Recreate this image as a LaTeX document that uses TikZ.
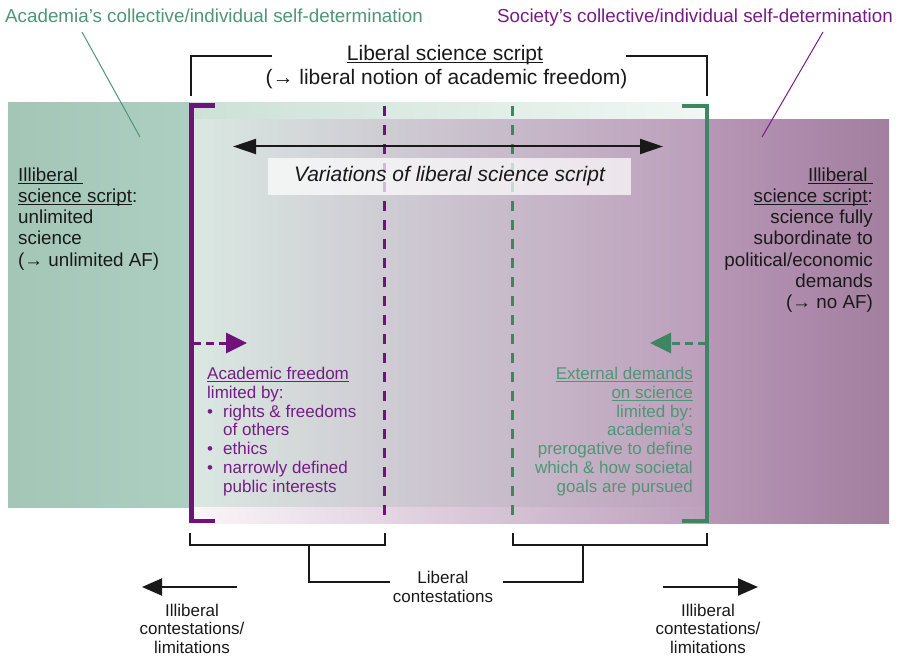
\documentclass[tikz,border=0pt]{standalone}
\usepackage{fontspec}
\setmainfont{Liberation Sans}
\usetikzlibrary{arrows.meta}
\definecolor{grtxt}{RGB}{78,150,117}
\definecolor{grline}{RGB}{62,134,98}
\definecolor{putxt}{RGB}{118,28,134}
\definecolor{puline}{RGB}{112,18,124}
\definecolor{ink}{RGB}{25,25,25}
\newcommand\myul[1]{\setbox0\hbox{#1}\rlap{\rule[-3pt]{\wd0}{1.3pt}}\box0}
\begin{document}
\begin{tikzpicture}[x=1pt,y=-1pt,
  lbl/.style={inner sep=0pt, font=\fontsize{18.8}{21.3}\selectfont},
  big/.style={inner sep=0pt, font=\fontsize{21}{24}\selectfont},
  small/.style={inner sep=0pt, font=\fontsize{17}{18.83}\selectfont},
  bot/.style={inner sep=0pt, font=\fontsize{17}{18.8}\selectfont, align=center, text=ink},
  blackbr/.style={draw=ink, line width=1.6pt},
  thickbr/.style={line width=4.5pt, line join=miter},
  dashv/.style={line width=3pt, dash pattern=on 10pt off 9pt},
  dasharr/.style={line width=3pt, dash pattern=on 8pt off 5pt, -{Triangle[length=21pt,width=20pt]}},
  blkarr/.style={draw=ink, line width=2pt},
  thin/.style={line width=1pt}
]
\useasboundingbox (0,0) rectangle (902,658);
% backgrounds
\shade[left color={rgb,255:red,163;green,198;blue,183}, right color={rgb,255:red,173;green,207;blue,193}] (8,103) rectangle (190.5,507);
\shade[left color={rgb,255:red,204;green,225;blue,215}, right color={rgb,255:red,241;green,247;blue,244}] (190,103) rectangle (708,120.5);
\shade[left color={rgb,255:red,218;green,232;blue,226}, middle color={rgb,255:red,204;green,193;blue,206}, right color={rgb,255:red,188;green,158;blue,187}] (190,120) rectangle (708.5,507.5);
\shade[left color={rgb,255:red,250;green,246;blue,249}, right color={rgb,255:red,190;green,160;blue,189}] (190,507) rectangle (708.5,523);
\shade[left color={rgb,255:red,184;green,150;blue,182}, right color={rgb,255:red,162;green,126;blue,159}] (708,120) rectangle (889,523);

% dashed separators
\coordinate (pdt) at (384,106); \coordinate (pdb) at (384,517);
\coordinate (gdt) at (512,106); \coordinate (gdb) at (512,517);
\draw[dashv, puline] (pdt) -- (pdb);
\draw[dashv, grline] (gdt) -- (gdb);

% variations
\coordinate (dl) at (233,146.5); \coordinate (dr) at (663,146.5);
\draw[blkarr, {Triangle[length=23pt,width=15pt]}-{Triangle[length=23pt,width=15pt]}] (dl) -- (dr);
\node[big, fill=white, fill opacity=0.7, text opacity=1, text=ink, minimum width=363pt, minimum height=37pt, font=\fontsize{21}{24}\selectfont\itshape] (var) at (449.5,176.5) {Variations of liberal science script};

% brackets
\coordinate (p1) at (215,105.5); \coordinate (p2) at (191.3,105.5); \coordinate (p3) at (191.3,521); \coordinate (p4) at (215,521);
\draw[thickbr, puline] (p1) -- (p2) -- (p3) -- (p4);
\coordinate (q1) at (682,106); \coordinate (q2) at (707,106); \coordinate (q3) at (707,521); \coordinate (q4) at (682,521);
\draw[thickbr, grline] (q1) -- (q2) -- (q3) -- (q4);

% top title
\node[big, anchor=base, text=ink] (title) at (445,60.3) {\myul{Liberal science script}};
\node[big, anchor=base, text=ink] (title2) at (446.5,84.6) {(→ liberal notion of academic freedom)};
\coordinate (t1) at (191,96); \coordinate (t2) at (191,56); \coordinate (t3) at (272,56);
\coordinate (t4) at (626,56); \coordinate (t5) at (707,56); \coordinate (t6) at (707,96);
\draw[blackbr] (t1) -- (t2) -- (t3);
\draw[blackbr] (t4) -- (t5) -- (t6);

% corner labels
\node[lbl, anchor=base west, text=grtxt] (acad) at (5,22.8) {Academia’s collective/individual self-determination};
\node[lbl, anchor=base east, text=putxt] (soc) at (893,22.8) {Society’s collective/individual self-determination};
\coordinate (g1) at (82,32); \coordinate (g2) at (140,137);
\draw[thin, grtxt] (g1) -- (g2);
\coordinate (s1) at (823,32); \coordinate (s2) at (762,137);
\draw[thin, putxt] (s1) -- (s2);

% side texts
\node[lbl, anchor=north west, align=left, text=ink] (lefttxt) at (18,167.2)
  {\myul{Illiberal\ }\\\myul{science script}:\\unlimited\\science\\(→ unlimited AF)};
\node[lbl, anchor=north east, align=right, text=ink] (righttxt) at (873,167.2)
  {\myul{Illiberal\ }\\\myul{science script}:\\science fully\\subordinate to\\political/economic\\demands\\(→ no AF)};

% dashed arrows
\coordinate (pa1) at (193,343); \coordinate (pa2) at (247,343);
\draw[dasharr, puline] (pa1) -- (pa2);
\coordinate (ga1) at (706,343); \coordinate (ga2) at (650,343);
\draw[dasharr, grline] (ga1) -- (ga2);

% inner blocks
\node[small, anchor=north west, align=left, text=putxt] (afree) at (207,366.9)
  {\myul{Academic freedom}\\limited by:\\\makebox[16pt][l]{•}rights \& freedoms\\\hspace*{16pt}of others\\\makebox[16pt][l]{•}ethics\\\makebox[16pt][l]{•}narrowly defined\\\hspace*{16pt}public interests};
\node[small, anchor=north east, align=right, text=grtxt] (extd) at (693,366.9)
  {\myul{External demands}\\\myul{on science}\\limited by:\\academia’s\\prerogative to define\\which \& how societal\\goals are pursued};

% bottom brackets
\coordinate (b1) at (190,533); \coordinate (b2) at (190,545); \coordinate (b3) at (385,545); \coordinate (b4) at (385,533);
\coordinate (b5) at (309,545); \coordinate (b6) at (309,582); \coordinate (b7) at (390,582);
\draw[blackbr] (b1) -- (b2) -- (b3) -- (b4);
\draw[blackbr] (b5) -- (b6) -- (b7);
\coordinate (c1) at (513,533); \coordinate (c2) at (513,545); \coordinate (c3) at (707,545); \coordinate (c4) at (707,533);
\coordinate (c5) at (583,545); \coordinate (c6) at (583,582); \coordinate (c7) at (503,582);
\draw[blackbr] (c1) -- (c2) -- (c3) -- (c4);
\draw[blackbr] (c5) -- (c6) -- (c7);
\node[bot, anchor=north] (libc) at (443,570.9) {Liberal\\contestations};

% bottom arrows
\coordinate (la1) at (237,587); \coordinate (la2) at (142,587);
\draw[blkarr, -{Triangle[length=20pt,width=17pt]}] (la1) -- (la2);
\coordinate (ra1) at (663,587); \coordinate (ra2) at (758,587);
\draw[blkarr, -{Triangle[length=20pt,width=17pt]}] (ra1) -- (ra2);
\node[bot, anchor=north, font=\fontsize{17}{18.4}\selectfont] (illl) at (192,603.9) {Illiberal\\contestations/\\limitations};
\node[bot, anchor=north, font=\fontsize{17}{18.4}\selectfont] (illr) at (708,603.9) {Illiberal\\contestations/\\limitations};
\end{tikzpicture}
\end{document}
